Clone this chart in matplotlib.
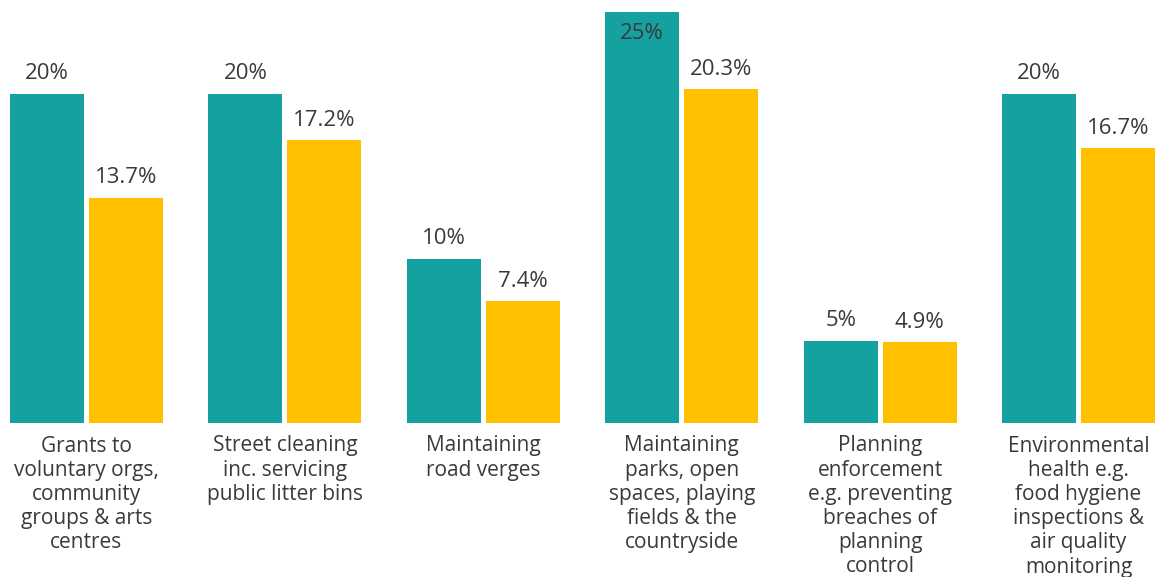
import matplotlib.pyplot as plt
import numpy as np

plt.rcParams['font.family'] = ['Open Sans', 'DejaVu Sans']

categories = [
    "Grants to\nvoluntary orgs,\ncommunity\ngroups & arts\ncentres",
    "Street cleaning\ninc. servicing\npublic litter bins",
    "Maintaining\nroad verges",
    "Maintaining\nparks, open\nspaces, playing\nfields & the\ncountryside",
    "Planning\nenforcement\ne.g. preventing\nbreaches of\nplanning\ncontrol",
    "Environmental\nhealth e.g.\nfood hygiene\ninspections &\nair quality\nmonitoring",
]
series_a = [20, 20, 10, 25, 5, 20]
series_b = [13.7, 17.2, 7.4, 20.3, 4.9, 16.7]
labels_a = ["20%", "20%", "10%", "25%", "5%", "20%"]
labels_b = ["13.7%", "17.2%", "7.4%", "20.3%", "4.9%", "16.7%"]

teal = "#14A19F"
yellow = "#FFC000"
txt = "#3a3a3a"

W, H = 1155, 577
fig = plt.figure(figsize=(W / 100, H / 100), dpi=100)
# axes placed in pixel terms: baseline at y=423, 25% at about y=12
ax = fig.add_axes([10 / W, (H - 423) / H, 1 - 10 / W, 411 / H])

x = np.arange(len(categories))
off, bw = 0.199, 0.373
ax.bar(x - off, series_a, bw, color=teal)
ax.bar(x + off, series_b, bw, color=yellow)

ax.set_xlim(-off - bw / 2, x[-1] + off + bw / 2)
ax.set_ylim(0, 25)
ax.axis('off')


def value_label(xp, v, s):
    # the tallest bar has no room above it, so its label sits inside the top
    if v >= 24:
        ax.annotate(s, (xp, v), xytext=(0, -8), textcoords='offset points',
                    ha='center', va='top', fontsize=16, color=txt,
                    annotation_clip=False)
    else:
        ax.annotate(s, (xp, v), xytext=(0, 7), textcoords='offset points',
                    ha='center', va='bottom', fontsize=16, color=txt,
                    annotation_clip=False)


for xi, a, b, la, lb in zip(x, series_a, series_b, labels_a, labels_b):
    value_label(xi - off, a, la)
    value_label(xi + off, b, lb)

for xi, cat in zip(x, categories):
    ax.annotate(cat, (xi, 0), xytext=(0, -9), textcoords='offset points',
                ha='center', va='top', fontsize=15, color=txt, linespacing=1.2,
                annotation_clip=False)

fig.savefig("out.png", dpi=100, facecolor="white")
